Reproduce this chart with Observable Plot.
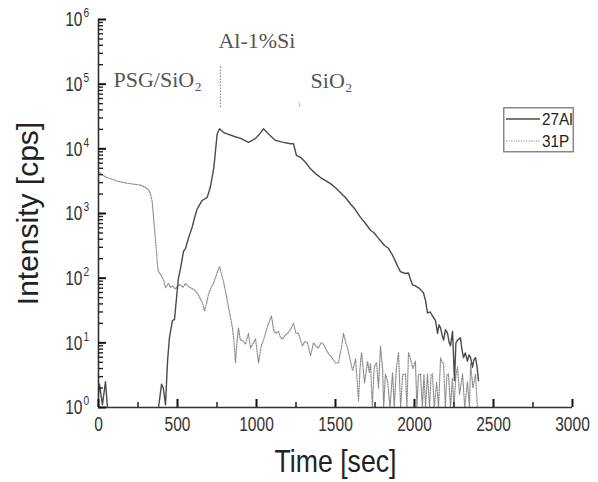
<!DOCTYPE html>
<html><head><meta charset="utf-8">
<script src="https://cdn.jsdelivr.net/npm/d3@7"></script>
<script src="https://cdn.jsdelivr.net/npm/@observablehq/plot@0.6"></script>
<style>
body{margin:0;background:#fff;}
#wrap{position:relative;width:598px;height:482px;overflow:hidden;}
#legend{position:absolute;left:503px;top:107px;}
</style></head><body><div id="wrap"></div>
<script>
// 27Al series (time [sec], intensity [cps]); null = gap
const alTime = [0,6,25,44,57,60,380,399,410,424,437,449,468,481,494,506,519,538,551,570,593,610,625,656,688,707,730,751,766,790,815,860,899,950,994,1020,1044,1076,1120,1170,1215,1234,1253,1278,1310,1342,1375,1405,1440,1468,1500,1532,1560,1595,1625,1658,1690,1722,1745,1770,1785,1810,1835,1860,1880,1895,1911,1940,1962,1975,1987,2005,2025,2040,2057,2070,2082,2100,2114,2133,2146,2155,2165,2175,2184,2196,2209,2220,2228,2241,2253,2262,2272,2291,2300,2310,2322,2335,2345,2355,2367,2376,2386,2395,2405];
const alValue = [1.6,2.3,1.1,2.5,1.0,null,1.0,2.3,2.0,1.1,5.2,12,22,23,50,100,140,260,290,420,620,900,1180,1590,1780,2500,5100,17000,20400,18000,17000,15500,14500,12600,14500,17000,20400,17000,13500,12600,12000,12000,7900,7400,6200,4900,4100,3600,3200,2900,2500,2100,1800,1400,1150,870,700,550,500,420,380,320,290,230,180,150,126,118,120,95,79,76,71,66,59,45,29,30,26,22,14,19,17,13,11,16,14,10,9,15,2.6,10,11,12,8,5.9,7,5.2,6.5,5.9,4.2,5.5,5.9,4.5,2.6];

// 31P series
const pTime = [0,20,50,76,120,180,230,266,300,316,330,340,350,360,367,373,380,395,411,424,443,455,468,487,505,519,535,550,565,582,600,614,630,646,660,671,685,696,712,728,750,766,780,791,808,823,835,848,858,867,876,886,898,911,930,949,962,975,994,1013,1030,1044,1070,1095,1108,1120,1139,1152,1165,1180,1196,1215,1234,1250,1266,1291,1305,1323,1342,1361,1375,1392,1408,1424,1440,1456,1475,1500,1519,1535,1551,1565,1576,1592,1608,1627,1646,1655,1665,1684,1703,1714,1722,1733,1745,1760,1772,1785,1798,1805,1816,1830,1845,1861,1872,1885,1899,1912,1925,1943,1952,1962,1975,1990,2006,2015,2025,2038,2050,2060,2070,2082,2095,2105,2114,2125,2140,2152,2165,2175,2184,2195,2205,2215,2228,2240,2250,2262,2272,2285,2304,2318,2335,2348,2355,2370,2386,2398];
const pValue = [4470,3980,3630,3470,3160,2950,2820,2750,2510,2340,2000,1510,790,400,263,158,126,112,95,71,83,72,76,68,79,79,72,83,76,71,68,63,56,47,40,31,42,56,71,83,120,151,112,89,56,35,25,17,10,4.9,10,17,11,11,9.5,14,8.3,9.5,11.5,4.9,8.9,11,18,26,16,14,15,12,11.5,13,14,16,20,14,14,8.9,10.5,10,6.3,10,8.9,8.3,10,9.5,7.9,6.8,6,4.9,4.9,7.9,14,10,8.3,5.6,3.7,5.6,1.26,4,7.1,2.4,5.2,3.5,4.8,1,4.2,5,2,8.9,4,1,3.3,2.5,1,3.5,1,4,7.1,1,3.2,3.3,1,7.1,5.6,4,5.2,1,3.2,3.3,1,3.2,1,3.3,1,3.2,3.3,1,2.5,1,5.9,5,4.8,1,3.2,3.3,1,2.8,1,3.2,4.2,1.6,3.3,1,2.5,1,4.8,2,3.3,1];

const seriesNames = ["27Al", "31P"];
const xMajorTicks = [0,500,1000,1500,2000,2500,3000];
const xMinorTicks = [250,750,1250,1750,2250,2750];
const yMajorTicks = [1,10,100,1000,10000,100000,1000000];
const yMinorTicks = d3.range(0,6).flatMap(k => d3.range(2,10).map(m => m * 10 ** k));
const xLabel = "Time [sec]";
const yLabel = "Intensity [cps]";

// layer annotations
const annoLabels = ["PSG/SiO₂", "Al-1%Si", "SiO₂"];
const annoTime = [95, 759, 1342];
const annoValue = [10 ** 5.06, 10 ** 5.67, 10 ** 5.05];
const markerTime = [772, 1272];
const markerFrom = [10 ** 4.64, 10 ** 4.65];
const markerTo = [10 ** 5.29, 10 ** 4.71];

const alData = alTime.map((t, i) => ({t, v: alValue[i]}));
const pData = pTime.map((t, i) => ({t, v: pValue[i]}));
const annos = annoLabels.map((label, i) => ({label, t: annoTime[i], v: annoValue[i]}));
const markers = markerTime.map((t, i) => ({t, y1: markerFrom[i], y2: markerTo[i]}));

const sans = "Liberation Sans, Arial, sans-serif";
const serif = "Liberation Serif, Times New Roman, serif";

const W = 598, H = 482, mL = 98, mR = 26, mT = 19, mB = 75;
const fw = W - mL - mR, fh = H - mT - mB;

const chart = Plot.plot({
  width: W, height: H,
  marginLeft: mL, marginRight: mR, marginTop: mT, marginBottom: mB,
  style: {background: "#fff", overflow: "visible"},
  x: {domain: [0, 3000], axis: null},
  y: {type: "log", domain: [1, 1e6], axis: null},
  marks: [
    Plot.line(pData, {x: "t", y: "v", stroke: "#8a8a8a", strokeWidth: 1.2, strokeDasharray: "1.2,1.3"}),
    Plot.line(alData, {x: "t", y: "v", stroke: "#4a4a4a", strokeWidth: 1.4}),
    Plot.ruleX(markers, {x: "t", y1: "y1", y2: "y2", stroke: "#888", strokeWidth: 1.2, strokeDasharray: "1.5,1.5"}),
    Plot.text(annos, {x: "t", y: "v", text: "label", textAnchor: "start", lineAnchor: "middle", fontSize: 22, fontFamily: serif, fill: "#555"}),
    // axes lines
    Plot.ruleX([0], {stroke: "#333", strokeWidth: 1.6}),
    Plot.ruleY([1], {stroke: "#333", strokeWidth: 1.6}),
    // inward ticks
    Plot.tickX(xMajorTicks, {x: d => d, insetTop: fh - 8, stroke: "#111", strokeWidth: 2}),
    Plot.tickX(xMinorTicks, {x: d => d, insetTop: fh - 5, stroke: "#222", strokeWidth: 1.5}),
    Plot.tickY(yMajorTicks, {y: d => d, insetRight: fw - 8, stroke: "#111", strokeWidth: 2}),
    Plot.tickY(yMinorTicks, {y: d => d, insetRight: fw - 5, stroke: "#222", strokeWidth: 1.4}),
    // tick labels
    Plot.text(xMajorTicks, {x: d => d, frameAnchor: "bottom", lineAnchor: "middle", dy: 17, text: d => String(d), fontSize: 21, fontFamily: sans, fill: "#333", ariaDescription: "sq73"}),
    Plot.text(yMajorTicks, {y: d => d, frameAnchor: "left", lineAnchor: "middle", dx: -16, textAnchor: "end", text: () => "10", fontSize: 21, fontFamily: sans, fill: "#333", ariaDescription: "sq73"}),
    Plot.text(yMajorTicks, {y: d => d, frameAnchor: "left", lineAnchor: "middle", dx: -15, dy: -6, textAnchor: "start", text: d => String(Math.round(Math.log10(d))), fontSize: 12, fontFamily: sans, fill: "#333", ariaDescription: "sq80"}),
    // axis titles
    Plot.text([xLabel], {frameAnchor: "bottom", lineAnchor: "middle", textAnchor: "middle", dy: 55, text: d => d, fontSize: 31, fontFamily: sans, fill: "#222", ariaDescription: "sq85"}),
    Plot.text([yLabel], {frameAnchor: "left", lineAnchor: "middle", textAnchor: "middle", dx: -70, rotate: -90, text: d => d, fontSize: 30, fontFamily: sans, fill: "#222"})
  ]
});

// horizontally condensed lettering like the reference
function squeeze(sel, s) {
  chart.querySelectorAll(`g[aria-description="${sel}"] text`).forEach(t => {
    const tr = t.getAttribute("transform");
    if (tr) t.setAttribute("transform", tr + ` scale(${s},1)`);
    else {
      const x = +t.getAttribute("x") || 0, y = +t.getAttribute("y") || 0;
      t.removeAttribute("x"); t.removeAttribute("y");
      t.setAttribute("transform", `translate(${x},${y}) scale(${s},1)`);
    }
  });
}
squeeze("sq73", 0.74);
squeeze("sq80", 0.85);
squeeze("sq85", 0.86);

const wrap = document.getElementById("wrap");
wrap.appendChild(chart);

// legend inside the plot area
const leg = d3.create("svg").attr("id", "legend").attr("width", 72).attr("height", 46);
leg.append("rect").attr("x", 0.75).attr("y", 0.75).attr("width", 69.5).attr("height", 44)
  .attr("fill", "#fff").attr("stroke", "#888").attr("stroke-width", 1.5);
const styles = [{stroke: "#4a4a4a", dash: null, w: 1.3}, {stroke: "#8a8a8a", dash: "1.2,1.3", w: 1.2}];
seriesNames.forEach((name, i) => {
  const y = 12 + i * 22;
  leg.append("line").attr("x1", 3).attr("x2", 37).attr("y1", y).attr("y2", y)
    .attr("stroke", styles[i].stroke).attr("stroke-width", styles[i].w)
    .attr("stroke-dasharray", styles[i].dash);
  leg.append("text").attr("transform", `translate(39,${y}) scale(0.9,1)`).attr("dy", "0.35em")
    .attr("font-family", sans).attr("font-size", 17).attr("fill", "#222").text(name);
});
wrap.appendChild(leg.node());
</script></body></html>
